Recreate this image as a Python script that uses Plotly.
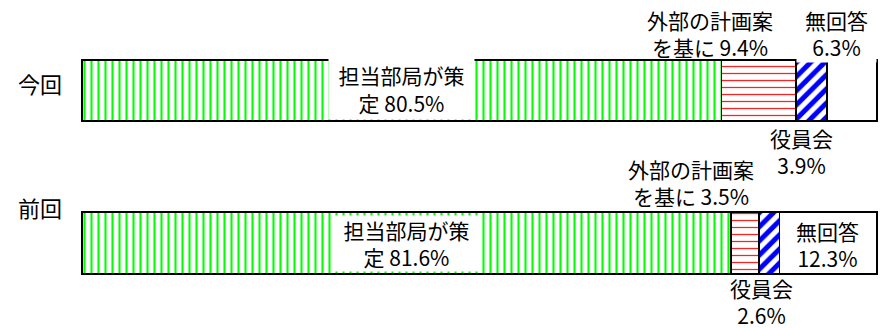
import plotly.graph_objects as go

# ---- data ----
categories = ["前回", "今回"]
series_names = ["担当部局が策定", "外部の計画案を基に", "役員会", "無回答"]
konkai = [80.5, 9.4, 3.9, 6.3]   # 今回
zenkai = [81.6, 3.5, 2.6, 12.3]  # 前回

# ---- styles ----
FONT = "Noto Sans CJK JP"
patterns = [
    dict(shape="|", fgcolor="#00ff00", bgcolor="white", size=7, solidity=0.3, fillmode="replace"),
    dict(shape="-", fgcolor="#ff2020", bgcolor="white", size=7, solidity=0.18, fillmode="replace"),
    dict(shape="/", fgcolor="#0000ff", bgcolor="white", size=10, solidity=0.5, fillmode="replace"),
    dict(shape="", bgcolor="white"),
]

fig = go.Figure()
for i, name in enumerate(series_names):
    fig.add_trace(go.Bar(
        name=name,
        y=categories,
        x=[zenkai[i], konkai[i]],
        orientation="h",
        width=0.403,
        marker=dict(color="white", pattern=patterns[i],
                    line=dict(color="black", width=1.6)),
        hoverinfo="skip",
    ))


def centers(vals):
    tot = sum(vals)
    out, cum = [], 0.0
    for v in vals:
        out.append((cum + v / 2) / tot * 100)
        cum += v
    return out


annotations = []
for cat, vals in (("今回", konkai), ("前回", zenkai)):
    c = centers(vals)
    # main label inside green with white box
    annotations.append(dict(
        x=c[0], y=cat, xref="x", yref="y",
        text=f"担当部局が策<br>定 {vals[0]}%",
        showarrow=False, bgcolor="white", borderpad=0,
        width=145, height=55 if cat == "前回" else 60,
        yshift=0 if cat == "前回" else 1.5,
        font=dict(family=FONT, size=21, color="black"),
    ))
    # 外部の計画案
    annotations.append(dict(
        x=c[1], y=cat, xref="x", yref="y",
        text=f"外部の計画案<br>を基に {vals[1]}%",
        showarrow=False,
        xshift=-49 if cat == "今回" else -54,
        yshift=57 if cat == "今回" else 61,
        font=dict(family=FONT, size=21, color="black"),
    ))
    # 役員会
    annotations.append(dict(
        x=c[2], y=cat, xref="x", yref="y",
        text=f"役員会<br>{vals[2]}%",
        showarrow=False,
        xshift=-10 if cat == "今回" else -8,
        yshift=-61 if cat == "今回" else -58.5,
        font=dict(family=FONT, size=21, color="black"),
    ))
    # 無回答
    if cat == "今回":
        annotations.append(dict(
            x=c[3], y=cat, xref="x", yref="y",
            text=f"無回答<br>{vals[3]}%",
            showarrow=False, bgcolor="white", borderpad=0,
            width=79, height=57,
            xshift=-16, yshift=57,
            font=dict(family=FONT, size=21, color="black"),
        ))
    else:
        annotations.append(dict(
            x=c[3], y=cat, xref="x", yref="y",
            text=f"無回答<br>{vals[3]}%",
            showarrow=False, xshift=-1, yshift=-1,
            font=dict(family=FONT, size=21, color="black"),
        ))

# category labels
annotations.append(dict(x=0, y="今回", xref="paper", yref="y", text="今回",
                        showarrow=False, xanchor="center", xshift=-41, yshift=7.5,
                        font=dict(family=FONT, size=22, color="black")))
annotations.append(dict(x=0, y="前回", xref="paper", yref="y", text="前回",
                        showarrow=False, xanchor="center", xshift=-41, yshift=36,
                        font=dict(family=FONT, size=22, color="black")))

fig.update_layout(
    barmode="stack",
    barnorm="percent",
    width=882, height=328,
    margin=dict(l=81, r=0, t=0, b=0),
    paper_bgcolor="white", plot_bgcolor="white",
    showlegend=False,
    annotations=annotations,
    xaxis=dict(range=[-0.1, 100.6], visible=False, fixedrange=True),
    yaxis=dict(type="category", categoryarray=categories, range=[-0.557, 1.593],
               visible=False, fixedrange=True),
    font=dict(family=FONT),
)

fig.write_html(
    "out.html",
    config={"displayModeBar": False},
    post_script="document.body.style.margin='0';document.body.style.padding='0';document.body.style.overflow='hidden';",
)
